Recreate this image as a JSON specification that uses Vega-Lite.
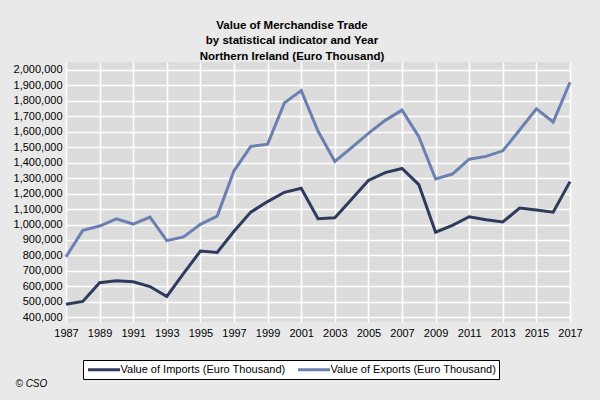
{
  "$schema": "https://vega.github.io/schema/vega-lite/v6.json",
  "autosize": {"type": "none"},
  "width": 504,
  "height": 260,
  "padding": {"left": 66, "top": 62, "right": 30, "bottom": 78},
  "background": "#e9e9e9",
  "title": {
    "text": ["Value of Merchandise Trade", "by statistical indicator and Year", "Northern Ireland (Euro Thousand)"],
    "font": "Liberation Sans",
    "fontSize": 11.5,
    "fontWeight": "bold",
    "color": "#000000",
    "lineHeight": 15.5,
    "anchor": "middle",
    "baseline": "bottom",
    "offset": 4,
    "dx": -26,
    "dy": 15
  },
  "config": {
    "view": {"fill": "#dcdcdc", "stroke": null},
    "font": "Liberation Sans"
  },
  "data": {
    "values": [
      {"year": 1987, "series": "Value of Imports (Euro Thousand)", "value": 485000},
      {"year": 1988, "series": "Value of Imports (Euro Thousand)", "value": 503000},
      {"year": 1989, "series": "Value of Imports (Euro Thousand)", "value": 624000},
      {"year": 1990, "series": "Value of Imports (Euro Thousand)", "value": 636000},
      {"year": 1991, "series": "Value of Imports (Euro Thousand)", "value": 630000},
      {"year": 1992, "series": "Value of Imports (Euro Thousand)", "value": 599000},
      {"year": 1993, "series": "Value of Imports (Euro Thousand)", "value": 535000},
      {"year": 1994, "series": "Value of Imports (Euro Thousand)", "value": 684000},
      {"year": 1995, "series": "Value of Imports (Euro Thousand)", "value": 828000},
      {"year": 1996, "series": "Value of Imports (Euro Thousand)", "value": 819000},
      {"year": 1997, "series": "Value of Imports (Euro Thousand)", "value": 956000},
      {"year": 1998, "series": "Value of Imports (Euro Thousand)", "value": 1080000},
      {"year": 1999, "series": "Value of Imports (Euro Thousand)", "value": 1148000},
      {"year": 2000, "series": "Value of Imports (Euro Thousand)", "value": 1208000},
      {"year": 2001, "series": "Value of Imports (Euro Thousand)", "value": 1234000},
      {"year": 2002, "series": "Value of Imports (Euro Thousand)", "value": 1037000},
      {"year": 2003, "series": "Value of Imports (Euro Thousand)", "value": 1043000},
      {"year": 2004, "series": "Value of Imports (Euro Thousand)", "value": 1163000},
      {"year": 2005, "series": "Value of Imports (Euro Thousand)", "value": 1285000},
      {"year": 2006, "series": "Value of Imports (Euro Thousand)", "value": 1335000},
      {"year": 2007, "series": "Value of Imports (Euro Thousand)", "value": 1362000},
      {"year": 2008, "series": "Value of Imports (Euro Thousand)", "value": 1258000},
      {"year": 2009, "series": "Value of Imports (Euro Thousand)", "value": 950000},
      {"year": 2010, "series": "Value of Imports (Euro Thousand)", "value": 994000},
      {"year": 2011, "series": "Value of Imports (Euro Thousand)", "value": 1050000},
      {"year": 2012, "series": "Value of Imports (Euro Thousand)", "value": 1031000},
      {"year": 2013, "series": "Value of Imports (Euro Thousand)", "value": 1016000},
      {"year": 2014, "series": "Value of Imports (Euro Thousand)", "value": 1106000},
      {"year": 2015, "series": "Value of Imports (Euro Thousand)", "value": 1093000},
      {"year": 2016, "series": "Value of Imports (Euro Thousand)", "value": 1080000},
      {"year": 2017, "series": "Value of Imports (Euro Thousand)", "value": 1277000},
      {"year": 1987, "series": "Value of Exports (Euro Thousand)", "value": 791000},
      {"year": 1988, "series": "Value of Exports (Euro Thousand)", "value": 962000},
      {"year": 1989, "series": "Value of Exports (Euro Thousand)", "value": 990000},
      {"year": 1990, "series": "Value of Exports (Euro Thousand)", "value": 1037000},
      {"year": 1991, "series": "Value of Exports (Euro Thousand)", "value": 1003000},
      {"year": 1992, "series": "Value of Exports (Euro Thousand)", "value": 1048000},
      {"year": 1993, "series": "Value of Exports (Euro Thousand)", "value": 896000},
      {"year": 1994, "series": "Value of Exports (Euro Thousand)", "value": 920000},
      {"year": 1995, "series": "Value of Exports (Euro Thousand)", "value": 1001000},
      {"year": 1996, "series": "Value of Exports (Euro Thousand)", "value": 1054000},
      {"year": 1997, "series": "Value of Exports (Euro Thousand)", "value": 1347000},
      {"year": 1998, "series": "Value of Exports (Euro Thousand)", "value": 1504000},
      {"year": 1999, "series": "Value of Exports (Euro Thousand)", "value": 1519000},
      {"year": 2000, "series": "Value of Exports (Euro Thousand)", "value": 1786000},
      {"year": 2001, "series": "Value of Exports (Euro Thousand)", "value": 1865000},
      {"year": 2002, "series": "Value of Exports (Euro Thousand)", "value": 1604000},
      {"year": 2003, "series": "Value of Exports (Euro Thousand)", "value": 1407000},
      {"year": 2004, "series": "Value of Exports (Euro Thousand)", "value": 1497000},
      {"year": 2005, "series": "Value of Exports (Euro Thousand)", "value": 1589000},
      {"year": 2006, "series": "Value of Exports (Euro Thousand)", "value": 1673000},
      {"year": 2007, "series": "Value of Exports (Euro Thousand)", "value": 1739000},
      {"year": 2008, "series": "Value of Exports (Euro Thousand)", "value": 1568000},
      {"year": 2009, "series": "Value of Exports (Euro Thousand)", "value": 1294000},
      {"year": 2010, "series": "Value of Exports (Euro Thousand)", "value": 1326000},
      {"year": 2011, "series": "Value of Exports (Euro Thousand)", "value": 1422000},
      {"year": 2012, "series": "Value of Exports (Euro Thousand)", "value": 1440000},
      {"year": 2013, "series": "Value of Exports (Euro Thousand)", "value": 1476000},
      {"year": 2014, "series": "Value of Exports (Euro Thousand)", "value": 1611000},
      {"year": 2015, "series": "Value of Exports (Euro Thousand)", "value": 1747000},
      {"year": 2016, "series": "Value of Exports (Euro Thousand)", "value": 1662000},
      {"year": 2017, "series": "Value of Exports (Euro Thousand)", "value": 1919000}
    ]
  },
  "mark": {"type": "line", "strokeWidth": 3, "strokeJoin": "miter"},
  "encoding": {
    "x": {
      "field": "year",
      "type": "quantitative",
      "scale": {"domain": [1987, 2017], "nice": false, "zero": false},
      "axis": {
        "values": [1987, 1989, 1991, 1993, 1995, 1997, 1999, 2001, 2003, 2005, 2007, 2009, 2011, 2013, 2015, 2017],
        "format": "d",
        "labelFont": "Liberation Sans",
        "labelFontSize": 11,
        "labelColor": "#000000",
        "labelPadding": 5,
        "labelFlush": false,
        "labelOverlap": false,
        "ticks": false,
        "domain": false,
        "grid": true,
        "gridColor": "#ffffff",
        "gridWidth": 1.5,
        "gridOpacity": 1,
        "title": "© CSO",
        "titleFont": "Liberation Sans",
        "titleFontSize": 10,
        "titleFontStyle": "italic",
        "titleFontWeight": "normal",
        "titleColor": "#000000",
        "titleAlign": "left",
        "titleBaseline": "middle",
        "titleAnchor": "start",
        "titleX": -51,
        "titleY": 61
      }
    },
    "y": {
      "field": "value",
      "type": "quantitative",
      "scale": {"domain": [370000, 2050000], "nice": false, "zero": false},
      "axis": {
        "values": [400000, 500000, 600000, 700000, 800000, 900000, 1000000, 1100000, 1200000, 1300000, 1400000, 1500000, 1600000, 1700000, 1800000, 1900000, 2000000],
        "format": ",d",
        "labelFont": "Liberation Sans",
        "labelFontSize": 11,
        "labelColor": "#000000",
        "labelPadding": 4,
        "labelOverlap": false,
        "ticks": false,
        "domain": false,
        "grid": true,
        "gridColor": "#ffffff",
        "gridWidth": 1.5,
        "gridOpacity": 1,
        "title": null
      }
    },
    "color": {
      "field": "series",
      "type": "nominal",
      "scale": {
        "domain": ["Value of Imports (Euro Thousand)", "Value of Exports (Euro Thousand)"],
        "range": ["#2f3b5e", "#6b80b0"]
      },
      "legend": {
        "orient": "none",
        "legendX": 17,
        "legendY": 298,
        "direction": "horizontal",
        "title": null,
        "fillColor": "#ffffff",
        "strokeColor": "#000000",
        "padding": 3,
        "symbolType": "M-3.2,0H3.2",
        "symbolSize": 100,
        "symbolStrokeWidth": 3,
        "symbolOffset": 11.5,
        "labelFont": "Liberation Sans",
        "labelFontSize": 11,
        "labelColor": "#000000",
        "labelOffset": 10,
        "columnPadding": 6,
        "labelLimit": 300
      }
    }
  }
}
